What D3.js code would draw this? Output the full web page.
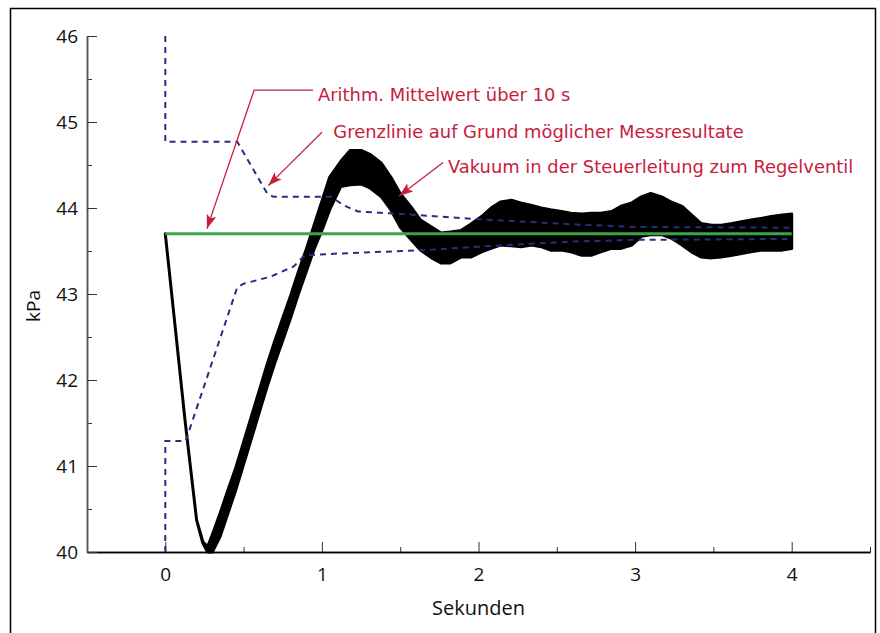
<!DOCTYPE html>
<html>
<head>
<meta charset="utf-8">
<script src="https://cdn.jsdelivr.net/npm/d3@7"></script>
<style>
  body { margin: 0; background: #fff; }
  svg { display: block; }
</style>
</head>
<body>
<div id="chart"></div>
<script>
// Zeitachse in Sekunden, Druck in kPa
const xTicks = [0, 1, 2, 3, 4];
const xMinorTicks = [-0.5, 0.5, 1.5, 2.5, 3.5, 4.5];
const yTicks = [40, 41, 42, 43, 44, 45, 46];
const yMinorTicks = [40.5, 41.5, 42.5, 43.5, 44.5, 45.5];

// arithm. Mittelwert
const meanValue = 43.7;
const meanRange = [0, 4];

// Grenzlinien [t, kPa]
const upperLimit = [
    [0, 46], [0, 44.77], [0.46, 44.77], [0.65, 44.17], [0.69, 44.13], [1.06, 44.13],
    [1.14, 44.03], [1.23, 43.96], [1.6, 43.92], [2.0, 43.87], [2.6, 43.81], [3.0, 43.78], [4.0, 43.77]
];
const lowerLimit = [
    [0, 40], [0, 41.29], [0.13, 41.29], [0.46, 43.08], [0.5, 43.12], [0.67, 43.2], [0.82, 43.32],
    [0.89, 43.45], [1.1, 43.47], [1.65, 43.51], [2.0, 43.55], [2.6, 43.61], [3.0, 43.63], [4.0, 43.64]
];

// Vakuum in der Steuerleitung: untere / obere Huellkurve des Rauschbands
const signalTime = [
    0, 0.06, 0.126, 0.2, 0.24, 0.27, 0.3, 0.35, 0.4, 0.45, 0.5, 0.55, 0.6, 0.65, 0.7, 0.75, 0.8, 0.85,
    0.9, 0.95, 1.0, 1.05, 1.12, 1.18, 1.25, 1.31, 1.38, 1.44, 1.5, 1.57, 1.63, 1.7, 1.76, 1.82, 1.89,
    1.95, 2.02, 2.08, 2.14, 2.21, 2.27, 2.34, 2.4, 2.46, 2.53, 2.59, 2.66, 2.72, 2.78, 2.85, 2.91, 2.98,
    3.04, 3.1, 3.17, 3.23, 3.3, 3.36, 3.42, 3.49, 3.55, 3.62, 3.68, 3.74, 3.81, 3.87, 3.94, 4.0
];
const signalLow = [
    43.7, 42.67, 41.53, 40.37, 40.1, 40.0, 40.0, 40.18, 40.45, 40.72, 41.02, 41.32, 41.62, 41.92, 42.2, 42.46, 42.72, 43.0,
    43.26, 43.52, 43.74, 43.98, 44.25, 44.27, 44.28, 44.23, 44.13, 43.98, 43.78, 43.63, 43.51, 43.42, 43.36, 43.36, 43.43,
    43.43, 43.49, 43.53, 43.57, 43.56, 43.55, 43.57, 43.55, 43.51, 43.51, 43.49, 43.45, 43.45, 43.49, 43.53, 43.53, 43.57,
    43.67, 43.69, 43.69, 43.65, 43.57, 43.49, 43.43, 43.42, 43.43, 43.45, 43.47, 43.49, 43.51, 43.51, 43.51, 43.53
];
const signalHigh = [
    43.7, 42.67, 41.53, 40.37, 40.12, 40.06, 40.2, 40.45, 40.72, 40.98, 41.28, 41.58, 41.88, 42.18, 42.46, 42.72, 42.98, 43.26,
    43.52, 43.8, 44.08, 44.36, 44.54, 44.67, 44.67, 44.62, 44.52, 44.36, 44.17, 44.01, 43.86, 43.78, 43.71, 43.72, 43.74,
    43.81, 43.9, 44.0, 44.07, 44.09, 44.06, 44.03, 44.0, 43.98, 43.96, 43.94, 43.93, 43.94, 43.94, 43.96, 44.02, 44.06,
    44.13, 44.17, 44.13, 44.07, 44.02, 43.92, 43.82, 43.8, 43.8, 43.82, 43.84, 43.86, 43.88, 43.9, 43.92, 43.93
];

// Beschriftungen: Text, Textposition, Hinweislinie (alles in Daten-Koordinaten)
const noteTexts = [
    'Arithm. Mittelwert über 10 s',
    'Grenzlinie auf Grund möglicher Messresultate',
    'Vakuum in der Steuerleitung zum Regelventil'
];
const notePositions = [[0.975, 45.24], [1.073, 44.81], [1.805, 44.41]];
const noteLeaders = [
    [[0.943, 45.37], [0.567, 45.37], [0.266, 43.76]],
    [[1.0, 44.88], [0.657, 44.26]],
    [[1.774, 44.53], [1.493, 44.14]]
];

const width = 880, height = 633;
const noteColor = '#c8203c';
const limitColor = '#2e2a7e';
const axisFont = '"Open Sans", sans-serif';

const svg = d3.select('#chart')
    .append('svg')
    .attr('width', width)
    .attr('height', height);

// Rahmen
svg.append('rect')
    .attr('x', 10.5)
    .attr('y', 8.5)
    .attr('width', 865)
    .attr('height', 640)
    .attr('fill', 'none')
    .attr('stroke', '#000')
    .attr('stroke-width', 1.5);

svg.append('defs').append('marker')
    .attr('id', 'arrow')
    .attr('markerUnits', 'userSpaceOnUse')
    .attr('markerWidth', 15)
    .attr('markerHeight', 11)
    .attr('refX', 14)
    .attr('refY', 5.5)
    .attr('orient', 'auto')
    .append('path')
    .attr('d', 'M0,0.5 L14,5.5 L0,10.5 L3,5.5 Z')
    .attr('fill', noteColor);

const x = d3.scaleLinear().domain([-0.5, 4.5]).range([87, 870]);
const y = d3.scaleLinear().domain([40, 46]).range([552, 36]);

// Achsen
let gx = svg.append('g')
    .attr('transform', 'translate(0,' + y(40) + ')');
gx.call(d3.axisBottom(x).tickValues(xMinorTicks).tickSize(-5).tickSizeOuter(0).tickFormat(''));
gx.append('g').call(d3.axisBottom(x).tickValues(xTicks).tickSize(-10).tickSizeOuter(0).tickPadding(16).tickFormat(d3.format('d')));
gx.selectAll('.domain').attr('stroke', '#000').attr('stroke-width', 1.5);
gx.selectAll('line').attr('stroke', '#333');
gx.selectAll('text')
    .attr('font-family', axisFont)
    .attr('font-size', 19)
    .attr('fill', '#111');

let gy = svg.append('g')
    .attr('transform', 'translate(' + x(-0.5) + ',0)');
gy.call(d3.axisLeft(y).tickValues(yMinorTicks).tickSize(-5).tickSizeOuter(0).tickFormat(''));
gy.append('g').call(d3.axisLeft(y).tickValues(yTicks).tickSize(-10).tickSizeOuter(0).tickPadding(9).tickFormat(d3.format('d')));
gy.selectAll('.domain').attr('stroke', '#555').attr('stroke-width', 1.5);
gy.selectAll('line').attr('stroke', '#333');
gy.selectAll('text')
    .attr('font-family', axisFont)
    .attr('font-size', 19)
    .attr('fill', '#111');

svg.append('text')
    .attr('transform', 'translate(40,306) rotate(-90)')
    .attr('text-anchor', 'middle')
    .attr('font-family', axisFont)
    .attr('font-size', 19)
    .attr('fill', '#111')
    .text('kPa');

svg.append('text')
    .attr('x', x(2))
    .attr('y', 615)
    .attr('text-anchor', 'middle')
    .attr('font-family', axisFont)
    .attr('font-size', 20)
    .attr('fill', '#111')
    .text('Sekunden');

// Messsignal als Band zwischen den Huellkurven
let band = d3.area()
    .x(d => x(d[0]))
    .y0(d => y(d[1]))
    .y1(d => y(d[2]));

svg.append('path')
    .datum(d3.zip(signalTime, signalLow, signalHigh))
    .attr('d', band)
    .attr('fill', '#000')
    .attr('stroke', '#000')
    .attr('stroke-width', 3)
    .attr('stroke-linejoin', 'round');

let line = d3.line()
    .x(d => x(d[0]))
    .y(d => y(d[1]));

[upperLimit, lowerLimit].forEach(limit => {
    svg.append('path')
        .datum(limit)
        .attr('d', line)
        .attr('fill', 'none')
        .attr('stroke', limitColor)
        .attr('stroke-width', 2)
        .attr('stroke-dasharray', '6,5');
});

svg.append('path')
    .datum(meanRange.map(t => [t, meanValue]))
    .attr('d', line)
    .attr('fill', 'none')
    .attr('stroke', '#3aa648')
    .attr('stroke-width', 3);

// Beschriftungen
noteLeaders.forEach(pts => {
    svg.append('path')
        .datum(pts)
        .attr('d', line)
        .attr('fill', 'none')
        .attr('stroke', noteColor)
        .attr('stroke-width', 1.3)
        .attr('marker-end', 'url(#arrow)');
});

svg.selectAll('.note')
    .data(noteTexts)
    .enter()
    .append('text')
    .attr('class', 'note')
    .attr('x', (d, i) => x(notePositions[i][0]))
    .attr('y', (d, i) => y(notePositions[i][1]))
    .attr('font-family', '"DejaVu Sans", sans-serif')
    .attr('font-size', 17.9)
    .attr('fill', noteColor)
    .text(d => d);
</script>
</body>
</html>
